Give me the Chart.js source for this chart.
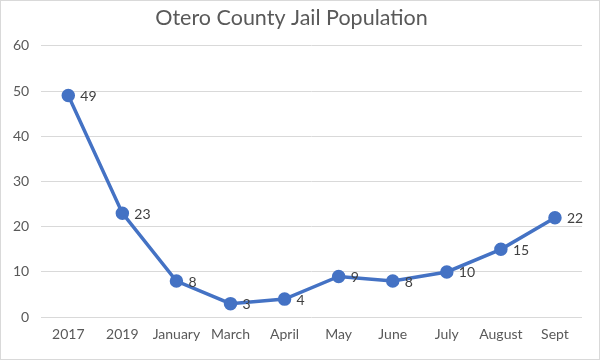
<!DOCTYPE html>
<html>
<head>
<meta charset="utf-8">
<script src="https://cdn.jsdelivr.net/npm/chart.js@4"></script>
<style>
    html, body { margin: 0; padding: 0; background: #fff; }
    #wrap { width: 598px; height: 358px; border: 1px solid #d9d9d9; }
</style>
</head>
<body>
<div id="wrap"><canvas id="jail" width="598" height="358"></canvas></div>
<script>
const categories = ['2017', '2019', 'January', 'March', 'April', 'May', 'June', 'July', 'August', 'Sept'];
const population = [49, 23, 8, 3, 4, 9, 8, 10, 15, 22];
const yTicks = [0, 10, 20, 30, 40, 50, 60];

// etiquetas de valor a la derecha de cada punto
const valueLabels = {
    id: 'valueLabels',
    afterDatasetsDraw(chart) {
        const ctx = chart.ctx;
        const meta = chart.getDatasetMeta(0);
        ctx.save();
        ctx.font = '14px Lato, "Noto Sans", sans-serif';
        ctx.fillStyle = '#404040';
        ctx.textAlign = 'left';
        ctx.textBaseline = 'middle';
        meta.data.forEach((pt, i) => {
            ctx.fillText(String(population[i]), pt.x + 12, pt.y + 1);
        });
        ctx.restore();
    }
};

new Chart(document.getElementById('jail').getContext('2d'), {
    type: 'line',
    data: {
        labels: categories,
        datasets: [{
            label: 'Population',
            data: population,
            borderColor: '#4472C4',
            backgroundColor: '#4472C4',
            borderWidth: 3.5,
            pointRadius: 5,
            pointHoverRadius: 5,
            tension: 0,
            fill: false
        }]
    },
    options: {
        responsive: false,
        animation: false,
        layout: { padding: { left: 0, right: 17, top: 0, bottom: 7 } },
        scales: {
            x: {
                offset: true,
                grid: { display: false, drawTicks: false },
                border: { display: false },
                ticks: { color: '#595959', font: { family: 'Lato', size: 14 }, padding: 9, maxRotation: 0, autoSkip: false }
            },
            y: {
                min: 0,
                max: 60,
                afterBuildTicks: axis => { axis.ticks = yTicks.map(v => ({ value: v })); },
                grid: { color: '#d9d9d9', lineWidth: 1, drawTicks: false },
                border: { display: false },
                ticks: { color: '#595959', font: { family: 'Lato', size: 14 }, padding: 12 }
            }
        },
        plugins: {
            legend: { display: false },
            tooltip: { enabled: false },
            title: {
                display: true,
                text: 'Otero County Jail Population',
                color: '#595959',
                font: { family: 'Lato', size: 21.5, weight: 'normal' },
                padding: { top: 4, bottom: 15 }
            }
        }
    },
    plugins: [valueLabels]
});
</script>
</body>
</html>
